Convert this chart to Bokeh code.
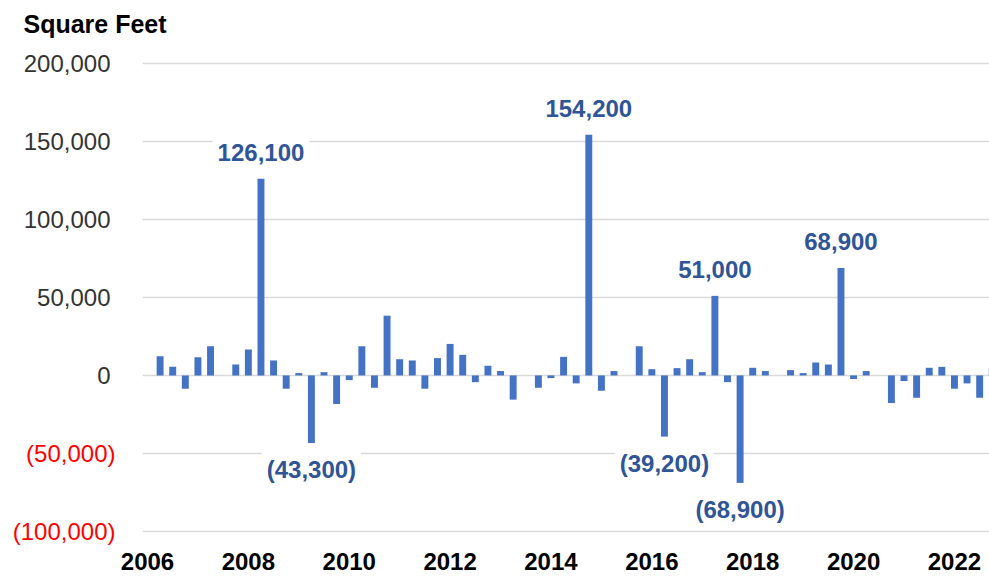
from bokeh.plotting import figure
from bokeh.models import (Range1d, FixedTicker, NumeralTickFormatter, Label,
                          LinearAxis, CustomJSTickFormatter)
from bokeh.embed import file_html
from bokeh.resources import INLINE

# ---- data (quarterly, 2006 Q1 .. 2022 Q4) ----
years = list(range(2006, 2023))
quarters = [f"{y} Q{q}" for y in years for q in range(1, 5)]
values = [0, 12300, 5500, -8500, 11700, 18700, 0, 7000, 16600, 126100,
          9600, -8500, 1500, -43300, 2100, -18300, -3000, 18700, -7900, 38300,
          10400, 9600, -8500, 11100, 20200, 13200, -4300, 6200, 2800, -15500,
          0, -7900, -1700, 11900, -5100, 154200, -9800, 2800, 0, 18700,
          4000, -39200, 4700, 10400, 2100, 51000, -4300, -68900, 4900, 2800,
          0, 3400, 1500, 8300, 7000, 68900, -2300, 2800, 0, -17700,
          -3600, -14300, 4900, 5500, -8500, -5100, -14300, 4900]
labeled_idx = [9, 13, 35, 41, 45, 47, 55]
pos_ticks = [0, 50000, 100000, 150000, 200000]
neg_ticks = [-50000, -100000]
year_tick_idx = list(range(0, 68, 8))
year_tick_labels = [quarters[i][:4] for i in year_tick_idx]

FONT = "Liberation Sans"
BAR = "#4472C4"
LBL = "#2F5597"

x_lo, x_hi = -0.396, 66.78
p = figure(width=989, height=578, output_backend="svg", toolbar_location=None,
           x_range=Range1d(x_lo, x_hi), y_range=Range1d(-100660, 212100),
           min_border_left=142, min_border_right=0, min_border_top=42,
           min_border_bottom=46)
p.outline_line_color = None

p.title.text = "Square Feet"
p.title.text_font = FONT
p.title.text_font_size = "25px"
p.title.text_font_style = "bold"
p.title.text_color = "#000000"
p.title.align = "left"
p.title.offset = -119
p.title.standoff = 14

xs = list(range(len(values)))
p.vbar(x=xs, top=values, bottom=0, width=0.55, fill_color=BAR, line_color=None)

# grid
p.xgrid.visible = False
p.ygrid.ticker = FixedTicker(ticks=pos_ticks + neg_ticks)
p.ygrid.grid_line_color = "#d9d9d9"
p.ygrid.grid_line_width = 1.5
p.ygrid.level = "underlay"


def style_axis(ax, color, size="24px", bold=False):
    ax.axis_line_color = None
    ax.major_tick_line_color = None
    ax.minor_tick_line_color = None
    ax.major_tick_out = 0
    ax.major_tick_in = 0
    ax.minor_tick_out = 0
    ax.minor_tick_in = 0
    ax.major_label_text_font = FONT
    ax.major_label_text_font_size = size
    ax.major_label_text_color = color
    if bold:
        ax.major_label_text_font_style = "bold"


# y axis (positive labels) – inner
ya = p.yaxis[0]
ya.ticker = FixedTicker(ticks=pos_ticks)
ya.formatter = NumeralTickFormatter(format="0,0")
style_axis(ya, "#333333")
ya.major_label_standoff = 32

# y axis (negative labels, red, in parentheses) – outer, pulled inward
yneg = LinearAxis(ticker=FixedTicker(ticks=neg_ticks),
                  formatter=CustomJSTickFormatter(code="""
                      const s = Math.abs(tick).toLocaleString('en-US');
                      return tick < 0 ? '(' + s + ')' : s;"""))
style_axis(yneg, "#FF0000")
yneg.major_label_standoff = -95
p.add_layout(yneg, "left")

# x axis
xa = p.xaxis[0]
xa.ticker = FixedTicker(ticks=year_tick_idx)
xa.major_label_overrides = {i: s for i, s in zip(year_tick_idx, year_tick_labels)}
style_axis(xa, "#000000", bold=True)
xa.major_label_standoff = 20

# data labels
for i in labeled_idx:
    v = values[i]
    txt = f"{v:,}" if v >= 0 else f"({abs(v):,})"
    p.add_layout(Label(x=i, y=v, text=txt, text_align="center",
                       text_baseline="alphabetic" if v >= 0 else "top",
                       y_offset=26 if v >= 0 else -8,
                       text_font=FONT, text_font_size="24px",
                       text_font_style="bold", text_color=LBL,
                       background_fill_color="white", padding=5))

open("out.html", "w").write(file_html(p, INLINE))
